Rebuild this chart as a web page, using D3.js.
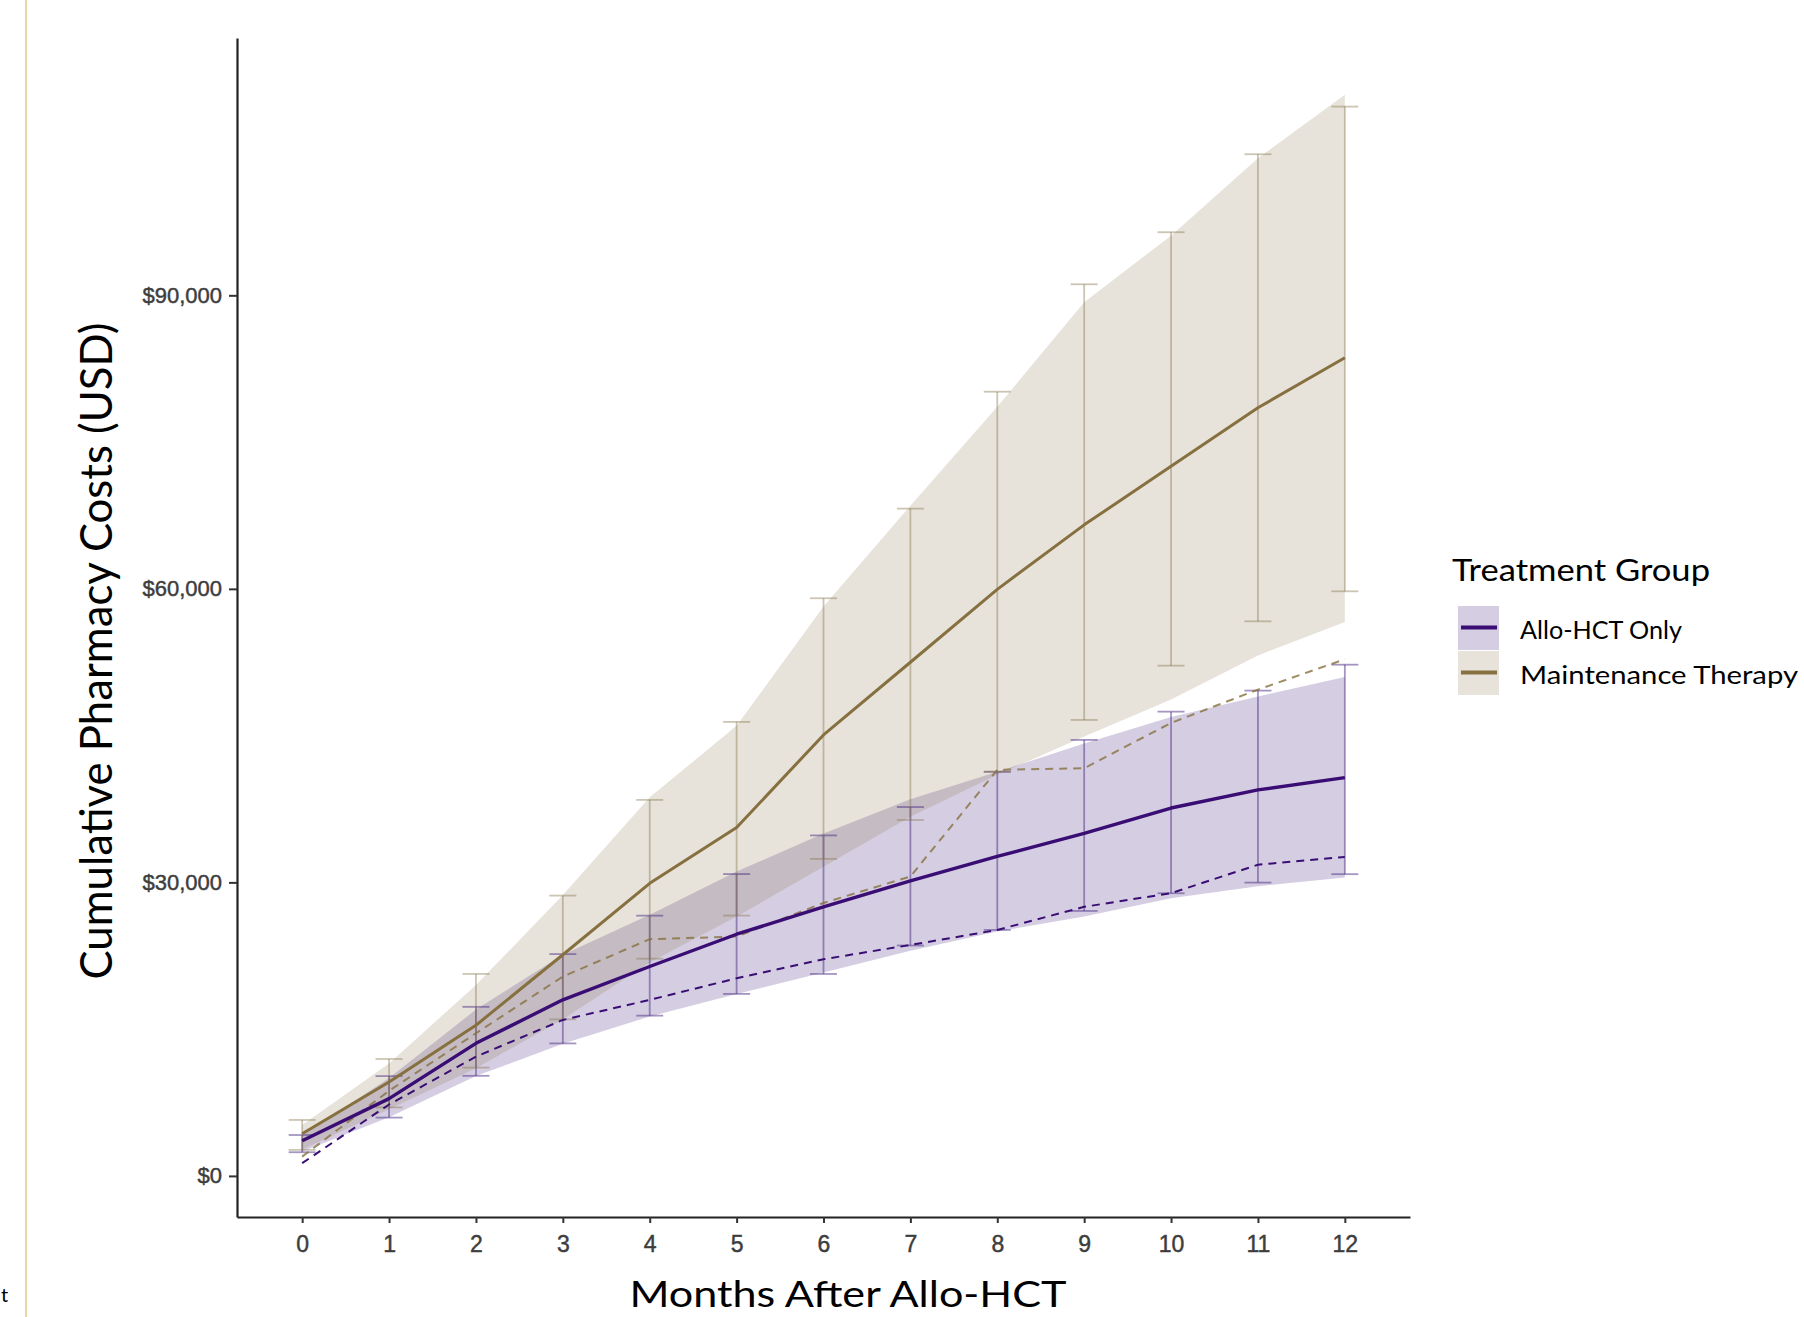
<!DOCTYPE html>
<html>
<head>
<meta charset="utf-8">
<script src="https://cdn.jsdelivr.net/npm/d3@7"></script>
<style>
  html, body { margin: 0; padding: 0; background: #fff; }
  svg { display: block; }
</style>
</head>
<body>
<div id="chart"></div>
<script>
// months after transplant
const months = [0, 1, 2, 3, 4, 5, 6, 7, 8, 9, 10, 11, 12];

// Allo-HCT Only
const alloMean   = [3600, 7900, 13550, 18000, 21400, 24700, 27500, 30150, 32650, 35000, 37600, 39450, 40700];
const alloLower  = [2420, 5960, 10230, 13540, 16380, 18600, 20640, 23550, 25140, 27080, 28890, 29980, 30840];
const alloUpper  = [4180, 10200, 17280, 22670, 26600, 30850, 34800, 37700, 41300, 44560, 47450, 49600, 52250];
const alloBandLo = [2500, 6000, 10200, 13500, 16300, 18600, 20800, 23000, 24970, 26500, 28380, 29600, 30500];
const alloBandHi = [4100, 10000, 17000, 22600, 26700, 31100, 35000, 38500, 41300, 44200, 46900, 49000, 51000];
const alloDashed = [1300, 7300, 12190, 15940, 17990, 20200, 22150, 23600, 25140, 27500, 28900, 31800, 32600];

// Maintenance Therapy
const maintMean   = [4300, 9600, 15400, 22600, 29900, 35600, 45070, 52500, 59950, 66540, 72530, 78510, 83620];
const maintLower  = [2660, 7000, 11070, 16000, 22200, 26610, 32400, 36380, 41320, 46600, 52150, 56680, 59750];
const maintUpper  = [5720, 11950, 20640, 28650, 38430, 46400, 59040, 68200, 80150, 91130, 96450, 104420, 109290];
const maintBandLo = [2700, 6800, 11000, 16000, 21800, 26500, 31600, 36700, 41000, 44900, 48700, 53200, 56600];
const maintBandHi = [5200, 11500, 19500, 28700, 38700, 46000, 58200, 68500, 78600, 89300, 96100, 104000, 110500];
const maintDashed = [1970, 8700, 14580, 20370, 24200, 24460, 27900, 30600, 41500, 41660, 46300, 49700, 52800];

const yTicks = [0, 30000, 60000, 90000];
const groupNames = ["Allo-HCT Only", "Maintenance Therapy"];

const width = 1804;
const height = 1317;
const plot = { left: 237, right: 1410, top: 38, bottom: 1217 };

const purple = "#3a0d74";
const purpleFill = "#4b2e83";
const tan = "#86703f";
const tanFill = "#85754d";

const groups = [
  { name: groupNames[0], mean: alloMean, lo: alloLower, hi: alloUpper, bandLo: alloBandLo, bandHi: alloBandHi,
    dashed: alloDashed, line: purple, fill: purpleFill, fillOpacity: 0.235, barOpacity: 0.5, lineWidth: 3.4, dashOpacity: 1 },
  { name: groupNames[1], mean: maintMean, lo: maintLower, hi: maintUpper, bandLo: maintBandLo, bandHi: maintBandHi,
    dashed: maintDashed, line: tan, fill: tanFill, fillOpacity: 0.2, barOpacity: 0.42, lineWidth: 3, dashOpacity: 0.8 }
];

const x = d3.scaleLinear().domain([-0.75, 12.75]).range([plot.left, plot.right]);
const y = d3.scaleLinear().domain([-4200, 116300]).range([plot.bottom, plot.top]);

const svg = d3.select("#chart")
  .append("svg")
  .attr("width", width)
  .attr("height", height)
  .attr("viewBox", [0, 0, width, height])
  .style("background", "#fff");

// slide leftovers at the left edge
svg.append("line")
  .attr("x1", 26).attr("x2", 26)
  .attr("y1", 0).attr("y2", height)
  .attr("stroke", "#e8d6a8")
  .attr("stroke-width", 2);
svg.append("text")
  .attr("x", 1).attr("y", 1302)
  .style("font-family", "Lato, sans-serif")
  .style("font-size", "20px")
  .attr("fill", "#000")
  .text("t");

// ribbons
const area = (g) => d3.area()
  .x((d, i) => x(months[i]))
  .y0((d, i) => y(g.bandLo[i]))
  .y1((d, i) => y(g.bandHi[i]));

groups.forEach(g => {
  svg.append("path")
    .datum(months)
    .attr("d", area(g))
    .attr("fill", g.fill)
    .attr("fill-opacity", g.fillOpacity);
});

// error bars
const capHalf = 13.5;
groups.forEach(g => {
  const bars = svg.append("g")
    .attr("stroke", g.fill)
    .attr("stroke-opacity", g.barOpacity)
    .attr("stroke-width", 1.8)
    .attr("fill", "none");
  months.forEach((m, i) => {
    const cx = x(m);
    bars.append("line").attr("x1", cx).attr("x2", cx).attr("y1", y(g.lo[i])).attr("y2", y(g.hi[i]));
    bars.append("line").attr("x1", cx - capHalf).attr("x2", cx + capHalf).attr("y1", y(g.lo[i])).attr("y2", y(g.lo[i]));
    bars.append("line").attr("x1", cx - capHalf).attr("x2", cx + capHalf).attr("y1", y(g.hi[i])).attr("y2", y(g.hi[i]));
  });
});

// dashed lines
groups.forEach(g => {
  svg.append("path")
    .datum(g.dashed)
    .attr("d", d3.line().x((d, i) => x(months[i])).y(d => y(d)))
    .attr("fill", "none")
    .attr("stroke", g.line)
    .attr("stroke-opacity", g.dashOpacity)
    .attr("stroke-width", 2)
    .attr("stroke-dasharray", "8,6");
});

// mean lines
groups.forEach(g => {
  svg.append("path")
    .datum(g.mean)
    .attr("d", d3.line().x((d, i) => x(months[i])).y(d => y(d)))
    .attr("fill", "none")
    .attr("stroke", g.line)
    .attr("stroke-width", g.lineWidth)
    .attr("stroke-linejoin", "round");
});

// axes
const yAxis = svg.append("g")
  .attr("transform", `translate(${plot.left},0)`)
  .call(d3.axisLeft(y).tickValues(yTicks).tickFormat(d3.format("$,")).tickSize(8).tickPadding(7).tickSizeOuter(0));

const xAxis = svg.append("g")
  .attr("transform", `translate(0,${plot.bottom})`)
  .call(d3.axisBottom(x).tickValues(months).tickFormat(d3.format("d")).tickSize(6).tickSizeOuter(0));

[yAxis, xAxis].forEach(a => {
  a.select(".domain").attr("stroke", "#222").attr("stroke-width", 2.2);
  a.selectAll(".tick line").attr("stroke", "#333").attr("stroke-width", 2);
  a.selectAll(".tick text")
    .attr("fill", "#3d3d3d")
    .attr("stroke", "#3d3d3d")
    .attr("stroke-width", 0.45)
    .style("font-family", "Arial, 'Liberation Sans', sans-serif")
    .style("font-size", "22px");
});
xAxis.selectAll(".tick text").attr("y", 35).attr("dy", 0).style("font-size", "23px");

// axis titles
svg.append("text")
  .attr("x", 848).attr("y", 1307)
  .attr("text-anchor", "middle")
  .attr("textLength", 437)
  .attr("lengthAdjust", "spacingAndGlyphs")
  .style("font-family", "Lato, sans-serif")
  .style("font-size", "36px")
  .attr("fill", "#000")
  .text("Months After Allo-HCT");

svg.append("text")
  .attr("transform", "translate(112,651) rotate(-90)")
  .attr("text-anchor", "middle")
  .attr("textLength", 657)
  .attr("lengthAdjust", "spacingAndGlyphs")
  .style("font-family", "Lato, sans-serif")
  .style("font-size", "44px")
  .attr("fill", "#000")
  .text("Cumulative Pharmacy Costs (USD)");

// legend
const legend = svg.append("g").attr("transform", "translate(1452,0)");
legend.append("text")
  .attr("x", 0).attr("y", 581)
  .style("font-family", "Lato, sans-serif")
  .style("font-size", "31px")
  .attr("textLength", 258)
  .attr("lengthAdjust", "spacingAndGlyphs")
  .attr("fill", "#000")
  .text("Treatment Group");

groups.forEach((g, i) => {
  const top = 606 + i * 45;
  legend.append("rect")
    .attr("x", 6).attr("y", top)
    .attr("width", 41).attr("height", 44)
    .attr("fill", g.fill)
    .attr("fill-opacity", g.fillOpacity);
  legend.append("line")
    .attr("x1", 9).attr("x2", 45)
    .attr("y1", top + 21.5).attr("y2", top + 21.5)
    .attr("stroke", g.line)
    .attr("stroke-width", 4);
  legend.append("text")
    .attr("x", 68).attr("y", top + 32.5)
    .style("font-family", "Lato, sans-serif")
    .style("font-size", "25px")
    .attr("textLength", i === 0 ? 162 : 278)
    .attr("lengthAdjust", "spacingAndGlyphs")
    .attr("fill", "#000")
    .text(g.name);
});
</script>
</body>
</html>
